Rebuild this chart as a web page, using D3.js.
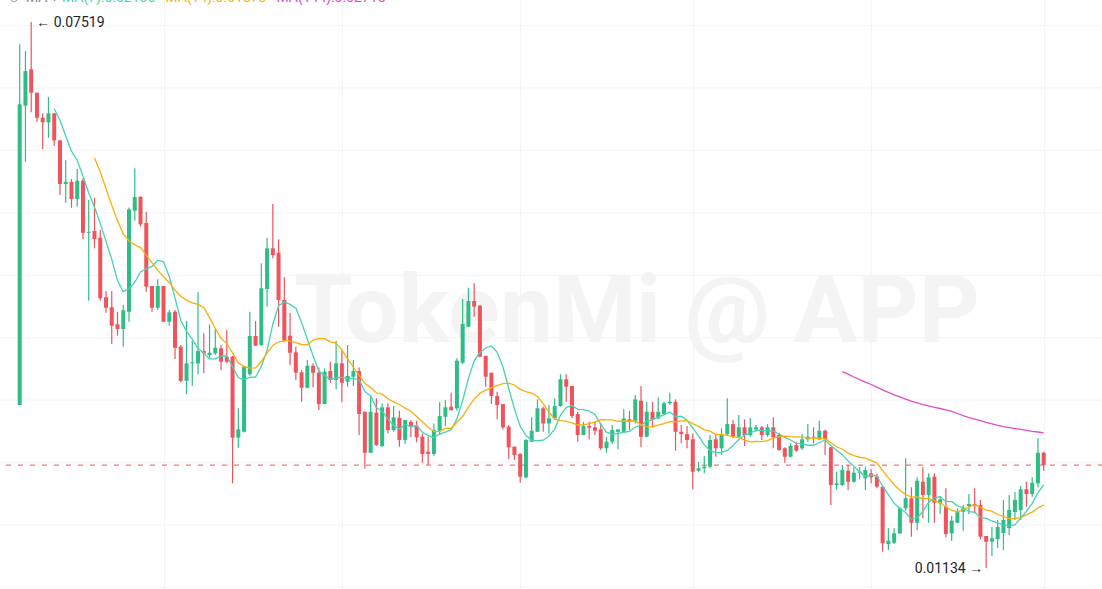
<!DOCTYPE html>
<html>
<head>
<meta charset="utf-8">
<script src="https://cdn.jsdelivr.net/npm/d3@7/dist/d3.min.js"></script>
<style>
  html, body { margin: 0; padding: 0; background: #fff; }
  svg { display: block; font-family: Roboto, "Noto Sans", sans-serif; }
</style>
</head>
<body>
<svg id="chart" width="1102" height="589"></svg>
<script>
// daily candles, first trading day
var startDay = Date.UTC(2023, 5, 6);

var opens = [
  0.03040, 0.06540, 0.06965, 0.06692, 0.06400, 0.06346, 0.06451, 0.06135, 0.05624, 0.05651,
  0.05449, 0.05663, 0.05054, 0.05074, 0.04996, 0.04300, 0.04183, 0.03984, 0.03929, 0.04131,
  0.05312, 0.05476, 0.05168, 0.04432, 0.04178, 0.04432, 0.04014, 0.04131, 0.03722, 0.03324,
  0.03527, 0.03527, 0.03671, 0.03624, 0.03644, 0.03703, 0.03605, 0.03605, 0.02658, 0.02727,
  0.03399, 0.03847, 0.03742, 0.04397, 0.04872, 0.04821, 0.04268, 0.03850, 0.03656, 0.03422,
  0.03242, 0.03499, 0.03418, 0.03051, 0.03437, 0.03332, 0.03527, 0.03312, 0.03371, 0.03437,
  0.02961, 0.02482, 0.02950, 0.02561, 0.03013, 0.02747, 0.02891, 0.02631, 0.02844, 0.02794,
  0.02669, 0.02494, 0.02467, 0.02739, 0.02903, 0.03020, 0.03001, 0.03535, 0.03956, 0.04256,
  0.04202, 0.03616, 0.03418, 0.03145, 0.03051, 0.02786, 0.02553, 0.02467, 0.02194, 0.02611,
  0.02727, 0.03001, 0.02825, 0.02884, 0.03028, 0.03340, 0.03262, 0.02935, 0.02689, 0.02794,
  0.02779, 0.02755, 0.02534, 0.02611, 0.02727, 0.02727, 0.02873, 0.02844, 0.03090, 0.02669,
  0.02961, 0.02884, 0.02935, 0.03060, 0.03078, 0.02727, 0.02700, 0.02639, 0.02272, 0.02300,
  0.02319, 0.02639, 0.02534, 0.02700, 0.02817, 0.02669, 0.02779, 0.02689, 0.02755, 0.02779,
  0.02689, 0.02779, 0.02689, 0.02534, 0.02435, 0.02572, 0.02534, 0.02639, 0.02669, 0.02639,
  0.02739, 0.02545, 0.02104, 0.02104, 0.02272, 0.02143, 0.02257, 0.02183, 0.02241, 0.02202,
  0.02085, 0.01414, 0.01429, 0.01539, 0.01832, 0.01949, 0.01663, 0.02143, 0.01988, 0.02202,
  0.01890, 0.01851, 0.01539, 0.01663, 0.01792, 0.01859, 0.01882, 0.01871, 0.01508, 0.01441,
  0.01473, 0.01543, 0.01601, 0.01789, 0.01812, 0.02054, 0.01999, 0.02124, 0.02482
];

var highs = [
  0.07258, 0.07179, 0.07519, 0.06692, 0.06451, 0.06642, 0.06451, 0.06135, 0.05901, 0.05683,
  0.05800, 0.05691, 0.05437, 0.05464, 0.05086, 0.04373, 0.04373, 0.04131, 0.04209, 0.05351,
  0.05808, 0.05476, 0.05300, 0.04432, 0.04510, 0.04432, 0.04151, 0.04151, 0.03742, 0.04022,
  0.03788, 0.04358, 0.03878, 0.03984, 0.03929, 0.03742, 0.03917, 0.03616, 0.03001, 0.03496,
  0.04131, 0.04022, 0.04697, 0.04996, 0.05390, 0.04977, 0.04533, 0.04119, 0.03722, 0.03449,
  0.03566, 0.03527, 0.03480, 0.03469, 0.03546, 0.03792, 0.03675, 0.03742, 0.03566, 0.03480,
  0.02961, 0.03145, 0.03118, 0.03060, 0.03060, 0.03028, 0.02973, 0.02864, 0.02864, 0.02856,
  0.02708, 0.02669, 0.02825, 0.03071, 0.03098, 0.03183, 0.03586, 0.04280, 0.04412, 0.04463,
  0.04209, 0.03616, 0.03418, 0.03195, 0.03051, 0.02806, 0.02553, 0.02475, 0.02639, 0.02896,
  0.03106, 0.03020, 0.03040, 0.03118, 0.03399, 0.03399, 0.03262, 0.02961, 0.02844, 0.02844,
  0.02844, 0.02833, 0.02669, 0.02806, 0.02755, 0.02989, 0.02973, 0.03157, 0.03262, 0.03078,
  0.03078, 0.03130, 0.03078, 0.03183, 0.03106, 0.02806, 0.02794, 0.02708, 0.02377, 0.02444,
  0.02689, 0.02689, 0.02767, 0.03118, 0.02864, 0.02923, 0.02873, 0.02884, 0.02806, 0.02794,
  0.02817, 0.02896, 0.02716, 0.02545, 0.02592, 0.02611, 0.02700, 0.02817, 0.02779, 0.02856,
  0.02755, 0.02545, 0.02260, 0.02338, 0.02338, 0.02311, 0.02311, 0.02319, 0.02288, 0.02233,
  0.02085, 0.01598, 0.01598, 0.01851, 0.02417, 0.02077, 0.02194, 0.02311, 0.02241, 0.02241,
  0.01976, 0.02066, 0.01742, 0.01832, 0.01871, 0.01999, 0.02066, 0.01929, 0.01508, 0.01613,
  0.01695, 0.01929, 0.01988, 0.02023, 0.02096, 0.02143, 0.02194, 0.02650, 0.02494
];

var lows = [
  0.03040, 0.05885, 0.06463, 0.06346, 0.06030, 0.06166, 0.06069, 0.05496, 0.05405, 0.05347,
  0.05359, 0.04977, 0.04260, 0.04872, 0.04260, 0.04119, 0.03753, 0.03850, 0.03722, 0.04014,
  0.05195, 0.05125, 0.04365, 0.04131, 0.04151, 0.04014, 0.03968, 0.03578, 0.03305, 0.03165,
  0.03266, 0.03399, 0.03411, 0.03586, 0.03624, 0.03449, 0.03527, 0.02124, 0.02541, 0.02720,
  0.03383, 0.03733, 0.03733, 0.04190, 0.04756, 0.03956, 0.03780, 0.03508, 0.03332, 0.03078,
  0.03235, 0.03247, 0.02981, 0.03051, 0.03300, 0.03223, 0.03071, 0.03254, 0.03262, 0.02689,
  0.02299, 0.02475, 0.02561, 0.02545, 0.02708, 0.02727, 0.02553, 0.02584, 0.02662, 0.02604,
  0.02365, 0.02338, 0.02447, 0.02689, 0.02794, 0.02973, 0.02973, 0.03519, 0.03949, 0.04073,
  0.03598, 0.03254, 0.03051, 0.02873, 0.02755, 0.02405, 0.02397, 0.02131, 0.02183, 0.02611,
  0.02727, 0.02727, 0.02708, 0.02864, 0.03020, 0.03078, 0.02884, 0.02611, 0.02689, 0.02639,
  0.02689, 0.02514, 0.02482, 0.02584, 0.02522, 0.02716, 0.02747, 0.02825, 0.02545, 0.02662,
  0.02779, 0.02873, 0.02923, 0.03040, 0.02506, 0.02592, 0.02534, 0.02054, 0.02260, 0.02241,
  0.02300, 0.02435, 0.02456, 0.02689, 0.02650, 0.02662, 0.02561, 0.02669, 0.02727, 0.02631,
  0.02669, 0.02534, 0.02506, 0.02365, 0.02428, 0.02494, 0.02514, 0.02611, 0.02592, 0.02631,
  0.02456, 0.01870, 0.02054, 0.02093, 0.02046, 0.02131, 0.02171, 0.02046, 0.02124, 0.02066,
  0.01325, 0.01344, 0.01414, 0.01531, 0.01804, 0.01500, 0.01578, 0.01715, 0.01663, 0.01663,
  0.01765, 0.01492, 0.01453, 0.01656, 0.01570, 0.01765, 0.01773, 0.01469, 0.01134, 0.01274,
  0.01367, 0.01344, 0.01519, 0.01695, 0.01695, 0.01851, 0.01968, 0.02077, 0.02272
];

var closes = [
  0.06557, 0.06945, 0.06692, 0.06400, 0.06346, 0.06451, 0.06135, 0.05624, 0.05651, 0.05449,
  0.05663, 0.05054, 0.05066, 0.04981, 0.04288, 0.04178, 0.03968, 0.03929, 0.04147, 0.05328,
  0.05472, 0.05153, 0.04424, 0.04178, 0.04432, 0.04014, 0.04124, 0.03710, 0.03320, 0.03527,
  0.03539, 0.03671, 0.03644, 0.03651, 0.03710, 0.03546, 0.03546, 0.02658, 0.02755, 0.03488,
  0.03847, 0.03733, 0.04405, 0.04872, 0.04794, 0.04268, 0.03792, 0.03651, 0.03418, 0.03242,
  0.03499, 0.03418, 0.03051, 0.03429, 0.03332, 0.03527, 0.03300, 0.03379, 0.03437, 0.02935,
  0.02482, 0.02961, 0.02572, 0.03013, 0.02747, 0.02896, 0.02631, 0.02864, 0.02786, 0.02662,
  0.02467, 0.02467, 0.02747, 0.02911, 0.03013, 0.02981, 0.03558, 0.03987, 0.04256, 0.04190,
  0.03605, 0.03371, 0.03145, 0.03040, 0.02779, 0.02545, 0.02456, 0.02202, 0.02631, 0.02739,
  0.03001, 0.02825, 0.02884, 0.03028, 0.03340, 0.03254, 0.02911, 0.02689, 0.02794, 0.02775,
  0.02739, 0.02534, 0.02611, 0.02747, 0.02755, 0.02884, 0.02844, 0.03106, 0.02669, 0.02961,
  0.02873, 0.02961, 0.03060, 0.03078, 0.02727, 0.02700, 0.02631, 0.02260, 0.02300, 0.02319,
  0.02631, 0.02534, 0.02700, 0.02817, 0.02669, 0.02779, 0.02689, 0.02779, 0.02779, 0.02689,
  0.02779, 0.02662, 0.02514, 0.02435, 0.02561, 0.02506, 0.02639, 0.02669, 0.02662, 0.02739,
  0.02639, 0.02104, 0.02124, 0.02280, 0.02143, 0.02248, 0.02260, 0.02280, 0.02194, 0.02085,
  0.01423, 0.01453, 0.01539, 0.01832, 0.01949, 0.01663, 0.02155, 0.01988, 0.02194, 0.01897,
  0.01937, 0.01531, 0.01687, 0.01792, 0.01832, 0.01882, 0.01859, 0.01500, 0.01441, 0.01481,
  0.01613, 0.01695, 0.01812, 0.01929, 0.02054, 0.01999, 0.02131, 0.02482, 0.02338
];

var maPeriods = [7, 14, 144];
var watermark = "TokenMi @ APP";

// styles
var upColor = "#2ebd85",
    downColor = "#ef535c",
    maColors = ["#45d3b6", "#f7b00a", "#e24cc6"];

var width = 1102, height = 589;
var svg = d3.select("#chart");

var candles = closes.map(function(c, i) {
  return {
    date: d3.utcDay.offset(new Date(startDay), i),
    open: opens[i], high: highs[i], low: lows[i], close: c
  };
});

// scales
var x = d3.scaleUtc()
    .domain(d3.extent(candles, function(d) { return d.date; }))
    .range([19.7, 1043.7]);

var y = d3.scaleLinear()
    .domain([d3.min(lows), d3.max(highs)])
    .range([568, 22]);

// grid
var grid = svg.append("g").attr("class", "grid");
var gridRow = d3.scaleLinear().domain([0, 9]).range([25, 587]);
grid.selectAll("line.h")
  .data(d3.range(10))
  .enter().append("line")
    .attr("x1", 0).attr("x2", width)
    .attr("y1", function(d) { return gridRow(d) + 0.5; })
    .attr("y2", function(d) { return gridRow(d) + 0.5; })
    .attr("stroke", "#f4f4f4");
grid.selectAll("line.v")
  .data(x.ticks(d3.utcMonth.every(1)))
  .enter().append("line")
    .attr("x1", function(d) { return Math.round(x(d)) + 0.5; })
    .attr("x2", function(d) { return Math.round(x(d)) + 0.5; })
    .attr("y1", 0).attr("y2", height)
    .attr("stroke", "#f4f4f4");

// watermark
svg.append("text")
  .attr("x", 637)
  .attr("y", 342)
  .attr("text-anchor", "middle")
  .style("font-size", "95px")
  .style("font-weight", "bold")
  .style("fill", "#f4f4f4")
  .text(watermark);

// last price line
var last = candles[candles.length - 1];
svg.append("line")
  .attr("x1", 6).attr("x2", width)
  .attr("y1", y(last.close)).attr("y2", y(last.close))
  .attr("stroke", downColor)
  .attr("stroke-opacity", 0.8)
  .attr("stroke-width", 1.2)
  .attr("stroke-dasharray", "5,7");

// candles
var bodyW = 4;
var cg = svg.append("g").selectAll("g")
  .data(candles)
  .enter().append("g")
    .attr("fill", function(d) { return d.close >= d.open ? upColor : downColor; })
    .attr("stroke", function(d) { return d.close >= d.open ? upColor : downColor; });

cg.append("line")
  .attr("x1", function(d) { return x(d.date); })
  .attr("x2", function(d) { return x(d.date); })
  .attr("y1", function(d) { return y(d.high); })
  .attr("y2", function(d) { return y(d.low); })
  .attr("stroke-width", 1.2);

cg.append("rect")
  .attr("stroke", "none")
  .attr("x", function(d) { return x(d.date) - bodyW / 2; })
  .attr("width", bodyW)
  .attr("y", function(d) { return y(Math.max(d.open, d.close)); })
  .attr("height", function(d) {
    return Math.max(1, Math.abs(y(d.open) - y(d.close)));
  });

// moving averages
function movingAvg(n) {
  return candles.map(function(d, i) {
    if (i < n - 1) return null;
    return d3.mean(closes.slice(i - n + 1, i + 1));
  });
}

var maLine = d3.line()
    .defined(function(d) { return d.v != null; })
    .x(function(d) { return x(d.date); })
    .y(function(d) { return y(d.v); });

var maValues = maPeriods.map(movingAvg);

maValues.forEach(function(vals, k) {
  svg.append("path")
    .datum(candles.map(function(d, i) { return {date: d.date, v: vals[i]}; }))
    .attr("fill", "none")
    .attr("stroke", maColors[k])
    .attr("stroke-width", 1.3)
    .attr("d", maLine);
});

// high / low labels
var hiIdx = d3.maxIndex(highs), loIdx = d3.minIndex(lows);
svg.append("text")
  .attr("x", x(candles[hiIdx].date) + 5)
  .attr("y", y(highs[hiIdx]))
  .attr("dy", "0.35em")
  .style("font-size", "14px")
  .style("fill", "#1e2329")
  .text("\u2190 " + highs[hiIdx].toFixed(5));

svg.append("text")
  .attr("x", x(candles[loIdx].date) - 3)
  .attr("y", y(lows[loIdx]))
  .attr("dy", "0.35em")
  .attr("text-anchor", "end")
  .style("font-size", "14px")
  .style("fill", "#1e2329")
  .text(lows[loIdx].toFixed(5) + " \u2192");

// legend (cut off at the top edge, as in the app screenshot)
var legend = svg.append("g").style("font-size", "14px");
legend.append("circle")
  .attr("cx", 14).attr("cy", -3).attr("r", 4.5)
  .attr("fill", "none").attr("stroke", "#999");
legend.append("text")
  .attr("x", 26).attr("y", 2)
  .style("fill", "#888")
  .text("MA \u25be");
var lx = 62;
maPeriods.forEach(function(p, k) {
  var vals = maValues[k];
  var t = legend.append("text")
    .attr("x", lx).attr("y", 2)
    .style("fill", maColors[k])
    .text("MA(" + p + "):" + vals[vals.length - 1].toFixed(5));
  lx += t.node().getComputedTextLength() + 10;
});
</script>
</body>
</html>
